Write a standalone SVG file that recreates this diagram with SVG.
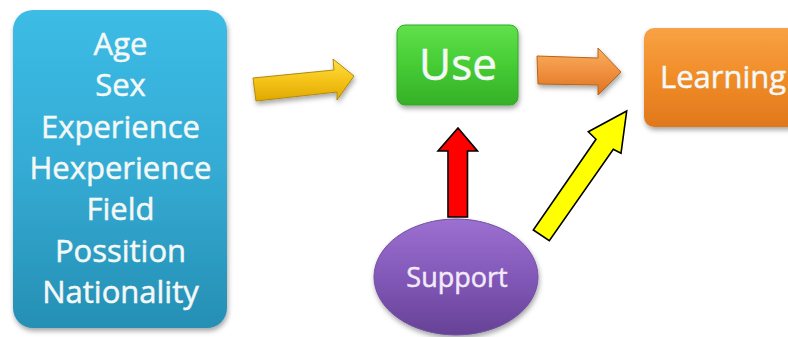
<svg xmlns="http://www.w3.org/2000/svg" width="788" height="337" viewBox="0 0 788 337">
<style>
.lbl{font-family:"Open Sans","Noto Sans","Liberation Sans",sans-serif;fill:#f4f8f6;stroke:#f4f8f6;stroke-width:0.5;text-anchor:middle}
.blk{stroke:#000;stroke-width:1.6;stroke-linejoin:miter}
</style>
<defs>
<filter id="sh" x="-20%" y="-20%" width="140%" height="140%">
<feDropShadow dx="1" dy="3" stdDeviation="2.5" flood-color="#000" flood-opacity="0.35"/>
</filter>
<linearGradient id="gBlue" x1="0" y1="0" x2="0" y2="1">
<stop offset="0" stop-color="#3cbce6"/><stop offset="0.5" stop-color="#34abd4"/><stop offset="1" stop-color="#268fb4"/>
</linearGradient>
<linearGradient id="gGreen" x1="0" y1="0" x2="0" y2="1">
<stop offset="0" stop-color="#60e04c"/><stop offset="0.5" stop-color="#46cc34"/><stop offset="1" stop-color="#36b028"/>
</linearGradient>
<linearGradient id="gOrange" x1="0" y1="0" x2="0" y2="1">
<stop offset="0" stop-color="#f8a244"/><stop offset="0.5" stop-color="#f08c28"/><stop offset="1" stop-color="#e0781c"/>
</linearGradient>
<linearGradient id="gPurple" x1="0" y1="0" x2="0" y2="1">
<stop offset="0" stop-color="#9c70d0"/><stop offset="0.5" stop-color="#8258b8"/><stop offset="1" stop-color="#664296"/>
</linearGradient>
<linearGradient id="gYel" x1="0" y1="0" x2="0" y2="1">
<stop offset="0" stop-color="#ffe040"/><stop offset="0.5" stop-color="#f5c41a"/><stop offset="1" stop-color="#e0a800"/>
</linearGradient>
<linearGradient id="gOrA" x1="0" y1="0" x2="0" y2="1">
<stop offset="0" stop-color="#f8b060"/><stop offset="0.5" stop-color="#f09040"/><stop offset="1" stop-color="#dc7420"/>
</linearGradient>
</defs>

<g id="connectors">
<polygon id="arrow-demo-use" points="253,78 334,70 333,59 354,76 337,100 337,92 256,101" fill="url(#gYel)" stroke="#b08a10" stroke-width="1" filter="url(#sh)"/>
<polygon id="arrow-use-learning" points="537,56 598,58 598,48 621,72 598,95 598,85 538,84" fill="url(#gOrA)" stroke="#b86418" stroke-width="1" filter="url(#sh)"/>
<polygon id="arrow-support-use" class="blk" points="458,128 477.5,151 467.5,151 467.5,217 448,217 448,151 438,151" fill="#ff0000"/>
<polygon id="arrow-support-learning" class="blk" points="626.7,111 621,153.3 613.3,149.3 549.3,240.7 533.3,230 596,139.3 588.3,131.7" fill="#ffff00"/>
</g>

<g id="node-demographics">
<rect x="13" y="10" width="214" height="318" rx="20" fill="url(#gBlue)" filter="url(#sh)"/>
<g class="lbl" font-size="31">
<text x="120.5" y="55">Age</text>
<text x="120.5" y="96">Sex</text>
<text x="120.5" y="138">Experience</text>
<text x="120.5" y="179">Hexperience</text>
<text x="120.5" y="220">Field</text>
<text x="120.5" y="262">Possition</text>
<text x="120.5" y="303">Nationality</text>
</g>
</g>

<g id="node-use">
<rect x="397" y="25" width="121" height="80" rx="8" fill="url(#gGreen)" stroke="#34a828" stroke-width="1" filter="url(#sh)"/>
<text class="lbl" x="458" y="80" font-size="44">Use</text>
</g>

<g id="node-learning">
<rect x="644" y="28" width="170" height="99" rx="10" fill="url(#gOrange)" filter="url(#sh)"/>
<text class="lbl" x="660" y="88" font-size="31" style="text-anchor:start">Learning</text>
</g>

<g id="node-support">
<ellipse cx="456" cy="277" rx="82" ry="58" fill="url(#gPurple)" stroke="#7050a0" stroke-width="1" filter="url(#sh)"/>
<text class="lbl" x="457" y="287" font-size="27" style="fill:#f2eaf8;stroke:#f2eaf8">Support</text>
</g>
</svg>
